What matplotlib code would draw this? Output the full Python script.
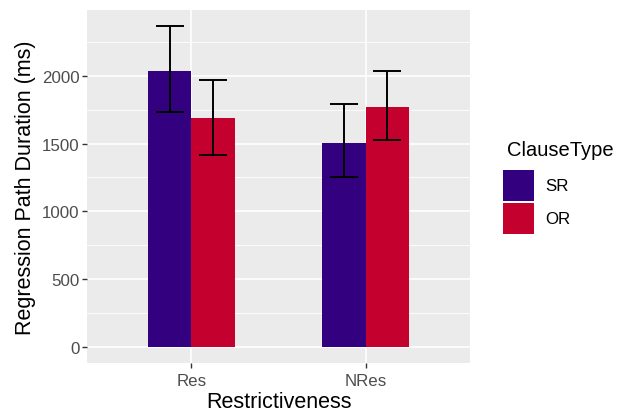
import matplotlib
matplotlib.use("Agg")
import matplotlib.pyplot as plt
from matplotlib.patches import Rectangle
import numpy as np

plt.rcParams['font.family'] = ['Liberation Sans', 'DejaVu Sans']

categories = ["Res", "NRes"]
clause_types = ["SR", "OR"]
means = {"SR": [2038, 1504], "OR": [1689, 1772]}
err_low = {"SR": [1733, 1254], "OR": [1416, 1529]}
err_high = {"SR": [2367, 1792], "OR": [1971, 2035]}
colors = {"SR": "#330080", "OR": "#C4002E"}

fig = plt.figure(figsize=(6.33, 4.14), dpi=100)
ax = fig.add_axes([87 / 633, 50 / 414, 383 / 633, 353 / 414])
ax.set_facecolor("#EBEBEB")

x = np.arange(1, len(categories) + 1)
bar_w = 0.25
offsets = {"SR": -bar_w / 2, "OR": bar_w / 2}

# grid: minor then major
for v in [250, 750, 1250, 1750, 2250]:
    ax.axhline(v, color="white", lw=0.6, zorder=0)
for v in [0, 500, 1000, 1500, 2000]:
    ax.axhline(v, color="white", lw=1.2, zorder=0)
for xi in x:
    ax.axvline(xi, color="white", lw=1.2, zorder=0)

for ct in clause_types:
    xs = x + offsets[ct]
    ax.bar(xs, means[ct], width=bar_w, color=colors[ct], zorder=2)
    lo = np.array(means[ct]) - np.array(err_low[ct])
    hi = np.array(err_high[ct]) - np.array(means[ct])
    ax.errorbar(xs, means[ct], yerr=[lo, hi], fmt="none", ecolor="black",
                elinewidth=1.4, capsize=10, capthick=1.4, zorder=3)

ax.set_xlim(0.4, 2.6)
ax.set_ylim(-118, 2485)
ax.set_xticks(x)
ax.set_xticklabels(categories)
ax.set_yticks([0, 500, 1000, 1500, 2000])
ax.tick_params(axis="both", colors="#333333", labelcolor="#4D4D4D",
               labelsize=12.2, length=3.5, width=1.0, pad=2)
ax.tick_params(axis="x", pad=4)
for s in ax.spines.values():
    s.set_visible(False)

ax.set_xlabel("Restrictiveness", fontsize=15.5, color="black", labelpad=2)
ax.set_ylabel("Regression Path Duration (ms)", fontsize=15.5, color="black", labelpad=4)

# legend
fig.text(507 / 633, 1 - 151 / 414, "ClauseType", fontsize=14.5, va="center", ha="left")
key_top = 171
for i, ct in enumerate(clause_types):
    y0 = key_top + i * 33
    fig.add_artist(Rectangle((503 / 633, 1 - (y0 + 31) / 414), 31 / 633, 31 / 414,
                             transform=fig.transFigure, facecolor=colors[ct],
                             edgecolor="none"))
    fig.text(545 / 633, 1 - (y0 + 16) / 414, ct, fontsize=12.2, va="center", ha="left")

fig.savefig("out.png", dpi=100)
